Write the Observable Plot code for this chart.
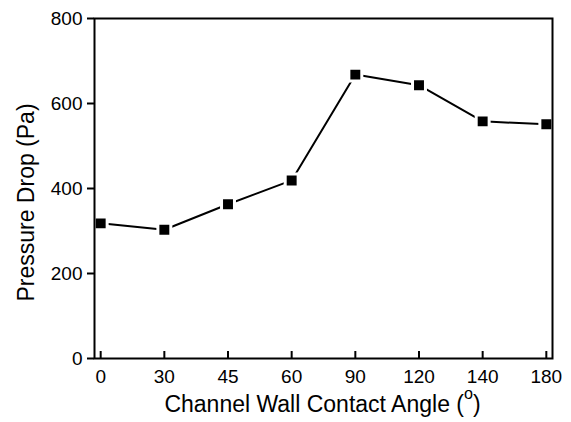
<!DOCTYPE html>
<html><head><meta charset="utf-8">
<script src="https://cdn.jsdelivr.net/npm/d3@7"></script>
<script src="https://cdn.jsdelivr.net/npm/@observablehq/plot@0.6"></script>
<style>body{margin:0;background:#fff} svg{display:block}</style>
</head><body><div id="chart"></div>
<script>
const angles = ["0","30","45","60","90","120","140","180"];
const pressure = [318, 303, 363, 419, 668, 643, 558, 551];
const yTicks = [0, 200, 400, 600, 800];
const xTitle = "Channel Wall Contact Angle (";
const xTitleSup = "o";
const xTitleEnd = ")";
const yTitle = "Pressure Drop (Pa)";
const data = angles.map((a, i) => ({angle: a, value: pressure[i]}));

const chart = Plot.plot({
  width: 571, height: 422,
  marginLeft: 94, marginRight: 19, marginTop: 18, marginBottom: 64,
  style: {fontFamily: "'Liberation Sans', Arial, sans-serif", fontSize: "19px", color: "#000", background: "#fff"},
  x: {type: "point", domain: angles, padding: 0.097, round: false},
  y: {domain: [0, 800]},
  marks: [
    Plot.axisY({ticks: yTicks, tickSize: 7, tickPadding: 5, strokeWidth: 2, label: null, fontSize: 19}),
    Plot.axisX({tickSize: -7, tickPadding: 18, strokeWidth: 2, label: null, fontSize: 19}),
    Plot.line(data, {x: "angle", y: "value", stroke: "#000", strokeWidth: 2}),
    Plot.dot(data, {x: "angle", y: "value", symbol: "square", r: 7.3, fill: "#000", stroke: "#fff", strokeWidth: 3}),
    Plot.frame({stroke: "#000", strokeWidth: 2}),
    Plot.text([yTitle], {frameAnchor: "left", textAnchor: "middle", lineAnchor: "bottom", rotate: -90, dx: -61, dy: 14, fontSize: 23, text: d => d}),
    Plot.text([xTitle], {frameAnchor: "bottom", textAnchor: "middle", lineAnchor: "bottom", dx: -1, dy: 53, fontSize: 23, text: d => d, className: "xtitle"})
  ]
});
document.getElementById("chart").append(chart);
const t = d3.select(chart).select(".xtitle text");
t.text(xTitle);
t.append("tspan").attr("dy", -12.5).attr("font-size", "0.7em").text(xTitleSup);
t.append("tspan").attr("dy", 12.5).text(xTitleEnd);
</script>
</body></html>
